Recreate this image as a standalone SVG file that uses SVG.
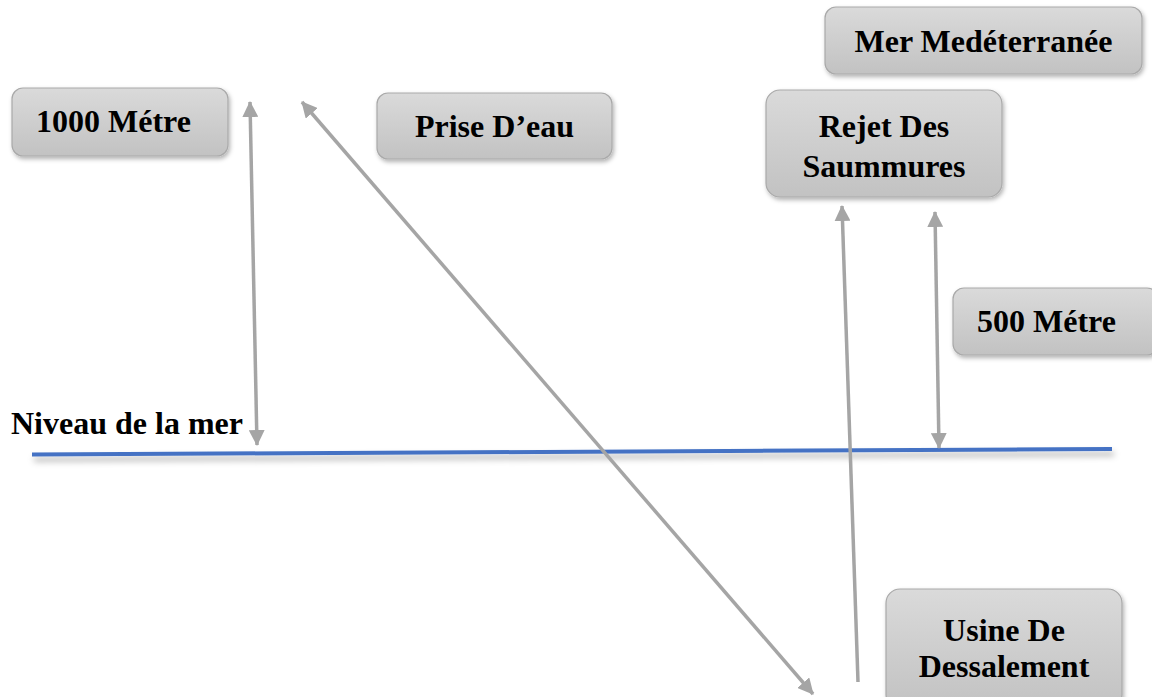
<svg xmlns="http://www.w3.org/2000/svg" width="1152" height="697" viewBox="0 0 1152 697">
<defs>
<style>
.box{fill:url(#g);stroke:#a9a9a9;stroke-width:1.2;filter:url(#sh)}
.t{font-family:"Liberation Serif","Times New Roman",serif;font-weight:bold;font-size:32px;fill:#000}
.c{text-anchor:middle}
.arr{stroke:#a5a5a5;stroke-width:3.5;fill:none}
</style>
<linearGradient id="g" x1="0" y1="0" x2="0" y2="1">
<stop offset="0" stop-color="#dadada"/>
<stop offset="1" stop-color="#c2c2c2"/>
</linearGradient>
<filter id="sh" x="-10%" y="-20%" width="130%" height="150%">
<feDropShadow dx="1.5" dy="2.5" stdDeviation="2" flood-color="#000" flood-opacity="0.3"/>
</filter>
<filter id="lsh" x="-5%" y="-300%" width="110%" height="800%">
<feDropShadow dx="2" dy="5" stdDeviation="3" flood-color="#000" flood-opacity="0.3"/>
</filter>
<marker id="ah" markerUnits="userSpaceOnUse" markerWidth="16" markerHeight="16" viewBox="0 0 16 16" refX="15" refY="8" orient="auto-start-reverse">
<path d="M0,0 L16,8 L0,16 Z" fill="#a5a5a5"/>
</marker>
</defs>
<rect width="1152" height="697" fill="#fff"/>

<g id="sea-level">
<line x1="32" y1="454.5" x2="1112" y2="449" stroke="#4472c4" stroke-width="4" filter="url(#lsh)"/>
<text class="t" x="11" y="434">Niveau de la mer</text>
</g>

<g id="n1000">
<rect class="box" x="12" y="88" width="216" height="68" rx="11"/>
<text class="t" x="36" y="132">1000 Métre</text>
</g>
<g id="prise">
<rect class="box" x="377" y="93" width="235" height="66" rx="11"/>
<text class="t c" x="494.5" y="137">Prise D’eau</text>
</g>
<g id="mer">
<rect class="box" x="825" y="7" width="317" height="67" rx="11"/>
<text class="t c" x="983.5" y="52">Mer Medéterranée</text>
</g>
<g id="rejet">
<rect class="box" x="766" y="90" width="236" height="107" rx="14"/>
<text class="t c" x="884" y="137">Rejet Des</text>
<text class="t c" x="884" y="177">Saummures</text>
</g>
<g id="n500">
<rect class="box" x="953" y="288" width="205" height="67" rx="11"/>
<text class="t" x="977" y="332">500 Métre</text>
</g>
<g id="usine">
<rect class="box" x="886" y="589" width="236" height="120" rx="14"/>
<text class="t c" x="1004" y="641">Usine De</text>
<text class="t c" x="1004" y="677">Dessalement</text>
</g>

<g id="connectors">
<line class="arr" x1="250" y1="102" x2="257" y2="445" marker-start="url(#ah)" marker-end="url(#ah)"/>
<line class="arr" x1="302" y1="102" x2="813" y2="694" marker-start="url(#ah)" marker-end="url(#ah)"/>
<line class="arr" x1="858" y1="682" x2="842" y2="206" marker-end="url(#ah)"/>
<line class="arr" x1="935" y1="212" x2="939" y2="448" marker-start="url(#ah)" marker-end="url(#ah)"/>
</g>
</svg>
